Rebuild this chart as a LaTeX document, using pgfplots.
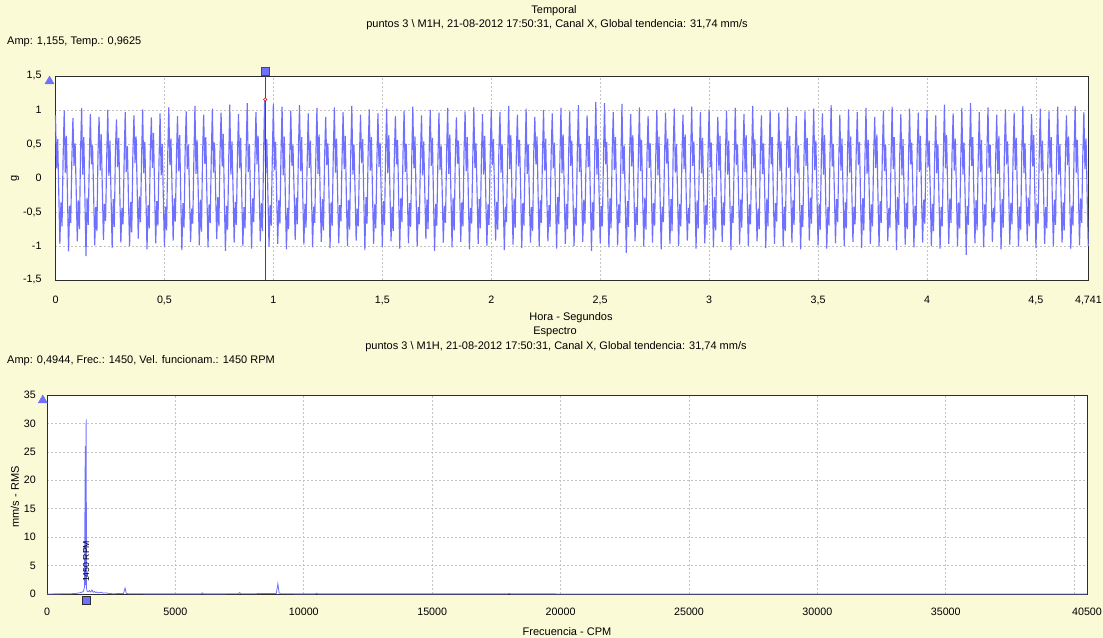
\documentclass[border=0pt]{standalone}
\usepackage{pgfplots}
\pgfplotsset{compat=1.18}
\usepackage{fontspec}
\setmainfont{Liberation Sans}
\definecolor{bgy}{RGB}{250,250,215}
\definecolor{sig}{RGB}{112,112,255}
\definecolor{frm}{RGB}{45,45,45}
\definecolor{grd}{RGB}{195,195,195}
\definecolor{cur}{RGB}{200,20,20}
\newcommand\tf{\fontsize{11bp}{13bp}\selectfont}
\newcommand\tk{\fontsize{10.7bp}{12bp}\selectfont}
\pgfplotsset{
 base/.style={scale only axis, anchor=south west, clip=false,
  axis background/.style={fill=white},
  axis line style={frm, line width=0.8bp},
  grid=major, major grid style={grd, dash pattern=on 2bp off 2bp, line width=0.7bp},
  major tick length=0pt, tick label style={font=\tk, inner sep=0pt},
  scaled x ticks=false, scaled y ticks=false}
}
\begin{document}
\begin{tikzpicture}
\useasboundingbox (0,0) rectangle (1103bp,638bp);
\fill[bgy] (0,0) rectangle (1103bp,638bp);
\begin{axis}[base, at={(55.5bp,358bp)}, width=1033bp, height=204bp,
 xmin=0, xmax=948.2, ymin=-1.5, ymax=1.5,
 xtick={0,100,200,300,400,500,600,700,800,900,948.2},
 xticklabels={0,{0,5},1,{1,5},2,{2,5},3,{3,5},4,{4,5},{4,741}},
 ytick={-1.5,-1,-0.5,0,0.5,1,1.5},
 yticklabels={{-1,5},-1,{-0,5},0,{0,5},1,{1,5}},
 xticklabel style={anchor=base, yshift=-24bp},
 yticklabel style={anchor=east, xshift=-13.8bp}]
\addplot[sig, line width=1.15bp] table {
x y
0 0.92
1 0.14
2 0.57
3 -0.21
4 -0.97
5 -0.36
6 -0.71
7 0.31
8 0.99
9 0.08
10 0.62
11 -0.27
12 -1.08
13 -0.41
14 -0.66
15 0.26
16 0.88
17 0.18
18 0.51
19 -0.18
20 -0.93
21 -0.33
22 -0.75
23 0.38
24 1.03
25 0.05
26 0.6
27 -0.3
28 -1.15
29 -0.29
30 -0.69
31 0.22
32 0.94
33 0.2
34 0.48
35 -0.24
36 -0.99
37 -0.43
38 -0.78
39 0.35
40 0.9
41 0.11
42 0.64
43 -0.16
44 -0.91
45 -0.38
46 -0.63
47 0.29
48 1.0
49 0.03
50 0.55
51 -0.28
52 -1.03
53 -0.31
54 -0.72
55 0.41
56 0.86
57 0.16
58 0.59
59 -0.2
60 -0.95
61 -0.44
62 -0.68
63 0.24
64 0.97
65 0.09
66 0.47
67 -0.33
68 -1.0
69 -0.35
70 -0.8
71 0.33
72 0.92
73 0.22
74 0.61
75 -0.19
76 -0.89
77 -0.27
78 -0.65
79 0.27
80 1.01
81 0.07
82 0.53
83 -0.26
84 -1.05
85 -0.4
86 -0.74
87 0.37
88 0.89
89 0.15
90 0.66
91 -0.22
92 -0.96
93 -0.34
94 -0.7
95 0.23
96 0.95
97 0.04
98 0.5
99 -0.31
100 -1.01
101 -0.42
102 -0.77
103 0.32
104 1.04
105 0.19
106 0.58
107 -0.17
108 -0.92
109 -0.3
110 -0.64
111 0.28
112 0.91
113 0.1
114 0.63
115 -0.29
116 -1.06
117 -0.37
118 -0.73
119 0.39
120 0.98
121 0.13
122 0.49
123 -0.23
124 -0.94
125 -0.45
126 -0.67
127 0.25
128 1.06
129 0.06
130 0.56
131 -0.19
132 -0.99
133 -0.32
134 -0.79
135 0.34
136 0.93
137 0.21
138 0.6
139 -0.27
140 -1.02
141 -0.39
142 -0.66
143 0.3
144 1.02
145 0.08
146 0.52
147 -0.21
148 -0.9
149 -0.28
150 -0.71
151 0.36
152 0.96
153 0.17
154 0.65
155 -0.32
156 -1.07
157 -0.41
158 -0.76
159 0.26
160 1.08
161 0.05
162 0.54
163 -0.18
164 -0.95
165 -0.35
166 -0.69
167 0.31
168 0.94
169 0.14
170 0.59
171 -0.25
172 -1.0
173 -0.43
174 -0.74
175 0.38
176 1.1
177 0.09
178 0.5
179 -0.3
180 -1.04
181 -0.3
182 -0.65
183 0.24
184 0.97
185 0.2
186 0.62
187 -0.2
188 -0.93
189 -0.37
190 -0.78
191 0.33
192 1.15
193 0.07
194 0.57
195 -0.26
196 -1.01
197 -0.4
198 -0.7
199 0.29
200 1.09
201 0.12
202 0.53
203 -0.22
204 -0.97
205 -0.33
206 -0.67
207 0.35
208 1.05
209 0.04
210 0.61
211 -0.29
212 -1.05
213 -0.44
214 -0.75
215 0.27
216 0.99
217 0.18
218 0.48
219 -0.17
220 -0.91
221 -0.29
222 -0.68
223 0.4
224 1.07
225 0.1
226 0.6
227 -0.27
228 -0.98
229 -0.38
230 -0.73
231 0.23
232 0.95
233 0.15
234 0.55
235 -0.23
236 -1.02
237 -0.42
238 -0.66
239 0.32
240 1.03
241 0.06
242 0.64
243 -0.31
244 -0.94
245 -0.31
246 -0.77
247 0.28
248 0.9
249 0.19
250 0.51
251 -0.19
252 -1.03
253 -0.36
254 -0.7
255 0.37
256 1.04
257 0.08
258 0.58
259 -0.24
260 -0.96
261 -0.4
262 -0.64
263 0.25
264 0.97
265 0.13
266 0.62
267 -0.28
268 -1.0
269 -0.33
270 -0.76
271 0.34
272 1.06
273 0.05
274 0.49
275 -0.2
276 -0.92
277 -0.45
278 -0.71
279 0.3
280 0.93
281 0.22
282 0.57
283 -0.3
284 -1.06
285 -0.28
286 -0.67
287 0.39
288 1.01
289 0.11
290 0.6
291 -0.22
292 -0.97
293 -0.39
294 -0.74
295 0.24
296 0.95
297 0.16
298 0.52
299 -0.26
300 -1.01
301 -0.34
302 -0.69
303 0.33
304 1.02
305 0.07
306 0.63
307 -0.18
308 -0.93
309 -0.42
310 -0.78
311 0.28
312 0.91
313 0.2
314 0.56
315 -0.29
316 -1.04
317 -0.3
318 -0.65
319 0.36
320 0.99
321 0.09
322 0.5
323 -0.23
324 -0.96
325 -0.37
326 -0.72
327 0.26
328 1.05
329 0.14
330 0.61
331 -0.27
332 -1.0
333 -0.43
334 -0.68
335 0.31
336 0.92
337 0.04
338 0.54
339 -0.2
340 -0.9
341 -0.32
342 -0.75
343 0.38
344 1.0
345 0.18
346 0.59
347 -0.32
348 -1.07
349 -0.38
350 -0.7
351 0.23
352 0.96
353 0.12
354 0.48
355 -0.21
356 -0.95
357 -0.41
358 -0.66
359 0.34
360 1.03
361 0.06
362 0.64
363 -0.25
364 -1.02
365 -0.29
366 -0.77
367 0.29
368 0.89
369 0.21
370 0.55
371 -0.19
372 -0.94
373 -0.36
374 -0.71
375 0.37
376 0.98
377 0.1
378 0.6
379 -0.3
380 -1.05
381 -0.44
382 -0.67
383 0.25
384 1.04
385 0.15
386 0.51
387 -0.23
388 -0.97
389 -0.31
390 -0.74
391 0.32
392 0.94
393 0.05
394 0.62
395 -0.27
396 -1.0
397 -0.39
398 -0.69
399 0.28
400 1.01
401 0.19
402 0.57
403 -0.2
404 -0.92
405 -0.35
406 -0.76
407 0.4
408 0.97
409 0.08
410 0.5
411 -0.31
412 -1.06
413 -0.42
414 -0.65
415 0.27
416 1.06
417 0.13
418 0.63
419 -0.24
420 -0.98
421 -0.3
422 -0.73
423 0.33
424 0.93
425 0.17
426 0.56
427 -0.18
428 -1.03
429 -0.37
430 -0.7
431 0.24
432 1.02
433 0.06
434 0.49
435 -0.28
436 -0.95
437 -0.43
438 -0.78
439 0.36
440 0.9
441 0.2
442 0.61
443 -0.22
444 -1.01
445 -0.33
446 -0.66
447 0.3
448 1.0
449 0.11
450 0.58
451 -0.26
452 -0.93
453 -0.4
454 -0.72
455 0.35
456 0.95
457 0.14
458 0.52
459 -0.3
460 -1.04
461 -0.28
462 -0.68
463 0.26
464 1.03
465 0.07
466 0.64
467 -0.21
468 -0.97
469 -0.38
470 -0.75
471 0.32
472 0.98
473 0.18
474 0.55
475 -0.25
476 -1.0
477 -0.44
478 -0.7
479 0.38
480 1.07
481 0.09
482 0.5
483 -0.19
484 -0.94
485 -0.32
486 -0.67
487 0.23
488 0.92
489 0.16
490 0.62
491 -0.29
492 -1.07
493 -0.36
494 -0.77
495 0.34
496 1.12
497 0.05
498 0.57
499 -0.23
500 -0.96
501 -0.41
502 -0.71
503 0.29
504 1.1
505 0.2
506 0.53
507 -0.27
508 -1.02
509 -0.3
510 -0.74
511 0.37
512 0.97
513 0.12
514 0.6
515 -0.2
516 -0.99
517 -0.39
518 -0.66
519 0.25
520 1.09
521 0.06
522 0.48
523 -0.31
524 -1.1
525 -0.34
526 -0.72
527 0.33
528 0.94
529 0.17
530 0.63
531 -0.22
532 -0.93
533 -0.43
534 -0.69
535 0.28
536 1.04
537 0.1
538 0.56
539 -0.26
540 -1.01
541 -0.29
542 -0.76
543 0.36
544 0.91
545 0.15
546 0.51
547 -0.18
548 -0.95
549 -0.37
550 -0.7
551 0.3
552 1.0
553 0.04
554 0.61
555 -0.3
556 -1.05
557 -0.42
558 -0.65
559 0.24
560 0.96
561 0.21
562 0.58
563 -0.24
564 -0.97
565 -0.31
566 -0.78
567 0.39
568 1.02
569 0.08
570 0.5
571 -0.21
572 -1.0
573 -0.38
574 -0.71
575 0.27
576 0.93
577 0.13
578 0.64
579 -0.28
580 -0.92
581 -0.44
582 -0.67
583 0.33
584 1.05
585 0.18
586 0.54
587 -0.19
588 -1.04
589 -0.33
590 -0.74
591 0.26
592 0.97
593 0.07
594 0.59
595 -0.25
596 -0.96
597 -0.4
598 -0.69
599 0.35
600 1.01
601 0.16
602 0.52
603 -0.3
604 -1.02
605 -0.28
606 -0.77
607 0.31
608 0.9
609 0.11
610 0.62
611 -0.22
612 -0.94
613 -0.36
614 -0.7
615 0.37
616 0.99
617 0.05
618 0.55
619 -0.27
620 -1.06
621 -0.41
622 -0.66
623 0.24
624 1.03
625 0.19
626 0.49
627 -0.2
628 -0.98
629 -0.32
630 -0.73
631 0.32
632 0.94
633 0.09
634 0.63
635 -0.29
636 -1.0
637 -0.39
638 -0.68
639 0.28
640 1.06
641 0.14
642 0.57
643 -0.23
644 -0.93
645 -0.45
646 -0.75
647 0.36
648 0.92
649 0.06
650 0.51
651 -0.18
652 -1.03
653 -0.3
654 -0.71
655 0.25
656 1.0
657 0.2
658 0.6
659 -0.31
660 -0.97
661 -0.37
662 -0.64
663 0.34
664 0.96
665 0.1
666 0.54
667 -0.24
668 -1.01
669 -0.42
670 -0.78
671 0.3
672 1.04
673 0.15
674 0.62
675 -0.21
676 -0.95
677 -0.33
678 -0.69
679 0.38
680 0.91
681 0.07
682 0.48
683 -0.28
684 -1.05
685 -0.4
686 -0.72
687 0.23
688 0.98
689 0.18
690 0.59
691 -0.19
692 -0.92
693 -0.29
694 -0.67
695 0.33
696 1.02
697 0.12
698 0.55
699 -0.26
700 -0.99
701 -0.38
702 -0.76
703 0.29
704 0.95
705 0.05
706 0.63
707 -0.3
708 -1.04
709 -0.43
710 -0.7
711 0.36
712 1.07
713 0.17
714 0.5
715 -0.22
716 -0.96
717 -0.31
718 -0.65
719 0.26
720 0.93
721 0.11
722 0.58
723 -0.25
724 -1.0
725 -0.36
726 -0.74
727 0.32
728 1.01
729 0.08
730 0.61
731 -0.2
732 -0.94
733 -0.42
734 -0.68
735 0.37
736 0.97
737 0.19
738 0.53
739 -0.29
740 -1.03
741 -0.3
742 -0.77
743 0.25
744 1.03
745 0.06
746 0.56
747 -0.23
748 -0.97
749 -0.39
750 -0.71
751 0.31
752 0.9
753 0.15
754 0.64
755 -0.27
756 -1.01
757 -0.34
758 -0.66
759 0.35
760 0.99
761 0.1
762 0.49
763 -0.18
764 -0.93
765 -0.44
766 -0.73
767 0.28
768 1.05
769 0.13
770 0.6
771 -0.31
772 -1.06
773 -0.28
774 -0.69
775 0.34
776 0.94
777 0.04
778 0.57
779 -0.24
780 -0.98
781 -0.37
782 -0.75
783 0.24
784 1.02
785 0.2
786 0.52
787 -0.21
788 -1.02
789 -0.41
790 -0.7
791 0.39
792 0.96
793 0.09
794 0.62
795 -0.28
796 -0.95
797 -0.32
798 -0.67
799 0.3
800 1.0
801 0.16
802 0.55
803 -0.2
804 -1.0
805 -0.38
806 -0.78
807 0.27
808 0.92
809 0.07
810 0.5
811 -0.3
812 -1.04
813 -0.43
814 -0.71
815 0.33
816 1.08
817 0.14
818 0.63
819 -0.24
820 -0.97
821 -0.3
822 -0.66
823 0.36
824 0.95
825 0.11
826 0.58
827 -0.19
828 -1.0
829 -0.36
830 -0.74
831 0.26
832 1.03
833 0.05
834 0.52
835 -0.27
836 -1.13
837 -0.41
838 -0.69
839 0.32
840 1.1
841 0.18
842 0.6
843 -0.22
844 -0.96
845 -0.33
846 -0.77
847 0.28
848 0.97
849 0.09
850 0.56
851 -0.29
852 -1.02
853 -0.39
854 -0.7
855 0.37
856 1.04
857 0.15
858 0.49
859 -0.21
860 -0.94
861 -0.44
862 -0.65
863 0.25
864 0.93
865 0.06
866 0.62
867 -0.26
868 -1.05
869 -0.31
870 -0.73
871 0.34
872 1.01
873 0.2
874 0.54
875 -0.18
876 -0.98
877 -0.37
878 -0.68
879 0.3
880 0.96
881 0.12
882 0.59
883 -0.3
884 -1.01
885 -0.42
886 -0.76
887 0.36
888 1.06
889 0.07
890 0.51
891 -0.23
892 -0.93
893 -0.29
894 -0.71
895 0.27
896 0.94
897 0.17
898 0.63
899 -0.25
900 -1.03
901 -0.38
902 -0.67
903 0.33
904 1.02
905 0.1
906 0.55
907 -0.2
908 -0.97
909 -0.43
910 -0.74
911 0.29
912 0.98
913 0.14
914 0.6
915 -0.28
916 -1.0
917 -0.32
918 -0.69
919 0.35
920 1.05
921 0.05
922 0.5
923 -0.22
924 -0.95
925 -0.36
926 -0.77
927 0.26
928 0.92
929 0.19
930 0.61
931 -0.27
932 -1.04
933 -0.41
934 -0.7
935 0.38
936 1.06
937 0.08
938 0.56
939 -0.19
940 -0.99
941 -0.3
942 -0.66
943 0.31
944 0.97
945 0.13
946 0.58
947 -0.25
948 -1.0
};
\addplot[cur, line width=0.9bp] coordinates {(192.5,-1.5) (192.5,1.52)};
\addplot[only marks, mark=square*, mark size=4bp, mark options={fill=sig, draw=cur, line width=0.9bp}] coordinates {(192.5,1.574)};
\addplot[only marks, mark=*, mark size=1.7bp, mark options={fill=white, draw=cur, line width=0.6bp}] coordinates {(192.5,1.155)};
\addplot[only marks, mark=triangle*, mark size=5.3bp, mark options={fill=sig, draw=sig}] coordinates {(-5.5,1.422)};
\end{axis}
\begin{axis}[base, at={(47bp,44bp)}, width=1040bp, height=199bp,
 xmin=0, xmax=40500, ymin=0, ymax=35,
 xtick={0,5000,10000,15000,20000,25000,30000,35000,40000,40500},
 xticklabels={0,5000,10000,15000,20000,25000,30000,35000,,40500},
 ytick={0,5,10,15,20,25,30,35},
 yticklabels={0,5,10,15,20,25,30,35},
 xticklabel style={anchor=base, yshift=-21bp},
 yticklabel style={anchor=east, xshift=-11bp}]
\addplot[sig, line width=0.8bp] table {
x y
0 0
300 0.02
600 0.03
900 0.05
1100 0.08
1200 0.15
1300 0.25
1380 0.35
1420 0.5
1460 1.2
1490 26.0
1505 1.5
1525 30.7
1540 1.0
1560 0.5
1600 0.4
1650 0.6
1700 0.35
1750 0.7
1800 0.3
1850 0.45
1900 0.25
1950 0.35
2000 0.2
2100 0.3
2200 0.15
2300 0.2
2400 0.08
2600 0.05
2980 0.1
3040 1.05
3090 0.1
3200 0.04
4000 0.02
4500 0.02
6000 0.02
6050 0.2
6100 0.02
7450 0.03
7500 0.25
7550 0.03
8930 0.1
8990 1.8
9040 0.2
9100 0.03
10450 0.02
10500 0.15
10550 0.02
12000 0.02
15000 0.02
17950 0.02
18000 0.12
18050 0.02
25000 0.01
30000 0.01
35000 0.01
40500 0.01
};
\addplot[only marks, mark=square*, mark size=4bp, mark options={fill=sig, draw=frm, line width=0.8bp}] coordinates {(1519,-1.14)};
\addplot[only marks, mark=triangle*, mark size=5.3bp, mark options={fill=sig, draw=sig}] coordinates {(-164,34.07)};
\node[rotate=90, font=\fontsize{8.7bp}{10bp}\selectfont, inner sep=0pt] at (axis cs:1519,5.74) {1450 RPM};
\end{axis}
\node[font=\tf, anchor=base] at (554bp,624bp) {Temporal};
\node[font=\tf, anchor=base] at (557bp,610bp) {puntos 3 \textbackslash{} M1H, 21-08-2012 17:50:31, Canal X, Global tendencia: 31,74 mm/s};
\node[font=\tf, anchor=base west, inner sep=0pt] at (7bp,593bp) {Amp: 1,155, Temp.: 0,9625};
\node[font=\tf, anchor=base] at (571bp,317bp) {Hora - Segundos};
\node[font=\tf, anchor=base] at (555bp,303bp) {Espectro};
\node[font=\tf, anchor=base] at (556bp,288bp) {puntos 3 \textbackslash{} M1H, 21-08-2012 17:50:31, Canal X, Global tendencia: 31,74 mm/s};
\node[font=\tf, anchor=base west, inner sep=0pt] at (7bp,274bp) {Amp: 0,4944, Frec.: 1450, Vel. funcionam.: 1450 RPM};
\node[font=\tf, anchor=base] at (567bp,3bp) {Frecuencia - CPM};
\node[font=\tf, rotate=90] at (15bp,460bp) {g};
\node[font=\tf, rotate=90] at (15bp,141bp) {mm/s - RMS};
\end{tikzpicture}
\end{document}
